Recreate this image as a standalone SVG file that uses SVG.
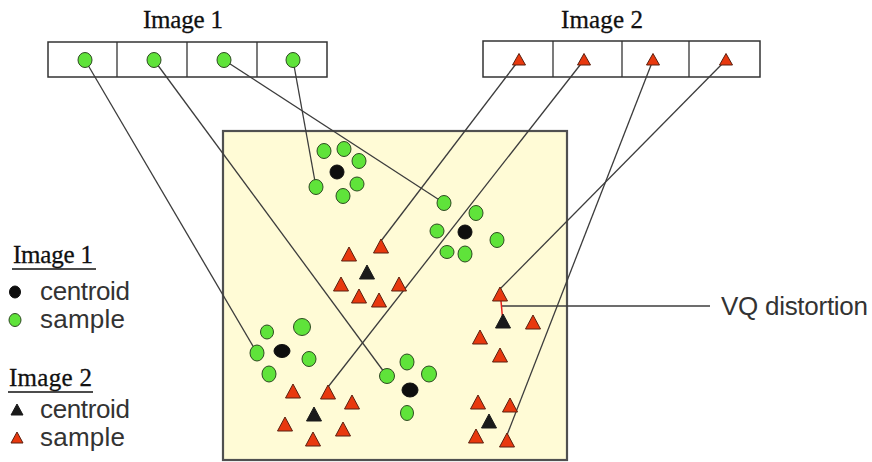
<svg xmlns="http://www.w3.org/2000/svg" width="872" height="462" viewBox="0 0 872 462">
  <style>
    .box { fill: #ffffff; stroke: #333333; stroke-width: 1.5; }
    .div { stroke: #333333; stroke-width: 1.3; }
    .field { fill: #fffbd6; stroke: #505050; stroke-width: 2.2; }
    .link { stroke: #3c3c3c; stroke-width: 1.3; fill: none; }
    .green { fill: #5fe33a; stroke: #2e4a22; stroke-width: 1; }
    .black { fill: #0e0e0e; stroke: #0e0e0e; stroke-width: 1; }
    .red { fill: #e8380e; stroke: #5a2010; stroke-width: 1; }
    .dark { fill: #1a1a1a; stroke: #1a1a1a; stroke-width: 1; }
    .serif { font-family: "Liberation Serif", "Times New Roman", serif; font-size: 25px; fill: #111111; stroke: #111111; stroke-width: 0.3; }
    .sans { font-family: "Liberation Sans", Arial, sans-serif; font-size: 26px; fill: #333333; }
  </style>
  <defs>
    <path id="tri" d="M0,-8 L7.5,6 L-7.5,6 Z"/>
    <path id="triS" d="M0,-6.5 L6.5,5 L-6.5,5 Z"/>
  </defs>

  <rect width="872" height="462" fill="#ffffff"/>

  <!-- codebook strips -->
  <g id="image1-strip">
    <text class="serif" x="183" y="28" text-anchor="middle" textLength="80">Image 1</text>
    <rect class="box" x="48" y="42" width="279" height="35"/>
    <line class="div" x1="117" y1="42" x2="117" y2="77"/>
    <line class="div" x1="187" y1="42" x2="187" y2="77"/>
    <line class="div" x1="257" y1="42" x2="257" y2="77"/>
  </g>
  <g id="image2-strip">
    <text class="serif" x="602" y="28" text-anchor="middle" textLength="82">Image 2</text>
    <rect class="box" x="483" y="41" width="277" height="36"/>
    <line class="div" x1="553" y1="41" x2="553" y2="77"/>
    <line class="div" x1="622" y1="41" x2="622" y2="77"/>
    <line class="div" x1="689" y1="41" x2="689" y2="77"/>
  </g>

  <!-- feature space -->
  <g id="feature-space">
    <rect class="field" x="223" y="131" width="344" height="329"/>
  </g>

  <!-- connectors -->
  <g id="connectors">
    <line class="link" x1="85" y1="60" x2="257" y2="353"/>
    <line class="link" x1="154" y1="60" x2="387" y2="376"/>
    <line class="link" x1="224" y1="60" x2="444" y2="203"/>
    <line class="link" x1="293" y1="60" x2="316" y2="187"/>
    <line class="link" x1="519" y1="60" x2="381" y2="241"/>
    <line class="link" x1="584" y1="60" x2="328" y2="387"/>
    <line class="link" x1="653" y1="60" x2="507" y2="435"/>
    <line class="link" x1="726" y1="60" x2="500" y2="289"/>
    <line id="vq-leader" class="link" x1="502" y1="306" x2="710" y2="306"/>
    <line id="vq-distance" x1="501" y1="301" x2="503" y2="323" stroke="#e8201a" stroke-width="1.5"/>
  </g>

  <!-- codewords in the strips -->
  <g id="cw1-1"><ellipse class="green" cx="85" cy="60" rx="7" ry="7.5"/></g>
  <g id="cw1-2"><ellipse class="green" cx="154" cy="60" rx="7" ry="7.5"/></g>
  <g id="cw1-3"><ellipse class="green" cx="224" cy="60" rx="7" ry="7.5"/></g>
  <g id="cw1-4"><ellipse class="green" cx="293" cy="60" rx="7" ry="7.5"/></g>
  <g id="cw2-1"><use href="#triS" class="red" x="519" y="60"/></g>
  <g id="cw2-2"><use href="#triS" class="red" x="584" y="60"/></g>
  <g id="cw2-3"><use href="#triS" class="red" x="653" y="60"/></g>
  <g id="cw2-4"><use href="#triS" class="red" x="726" y="60"/></g>

  <!-- image 1 cluster (top) -->
  <g id="cluster-a">
    <ellipse class="green" cx="324" cy="151" rx="7" ry="7.5"/>
    <ellipse class="green" cx="344" cy="149" rx="7" ry="7.5"/>
    <ellipse class="green" cx="359" cy="161" rx="7" ry="7.5"/>
    <ellipse class="green" cx="357" cy="184" rx="7" ry="7"/>
    <ellipse class="green" cx="316" cy="187" rx="7" ry="7.5"/>
    <ellipse class="green" cx="343" cy="196" rx="7" ry="7.5"/>
    <ellipse class="black" cx="337" cy="172" rx="7" ry="7"/>
  </g>
  <!-- image 1 cluster (right) -->
  <g id="cluster-b">
    <ellipse class="green" cx="444" cy="203" rx="7" ry="7.5"/>
    <ellipse class="green" cx="476" cy="213" rx="7" ry="7.5"/>
    <ellipse class="green" cx="437" cy="231" rx="7" ry="7"/>
    <ellipse class="green" cx="497" cy="240" rx="7" ry="7.5"/>
    <ellipse class="green" cx="447" cy="252" rx="7" ry="6.5"/>
    <ellipse class="green" cx="465" cy="254" rx="7" ry="8"/>
    <ellipse class="black" cx="465" cy="232" rx="7" ry="7"/>
  </g>
  <!-- image 1 cluster (left) -->
  <g id="cluster-c">
    <ellipse class="green" cx="267" cy="332" rx="6.5" ry="7"/>
    <ellipse class="green" cx="302" cy="327" rx="8.5" ry="8.5"/>
    <ellipse class="green" cx="257" cy="353" rx="7" ry="8"/>
    <ellipse class="green" cx="309" cy="359" rx="7" ry="7.5"/>
    <ellipse class="green" cx="269" cy="374" rx="7" ry="8"/>
    <ellipse class="black" cx="282" cy="351" rx="8" ry="6.5"/>
  </g>
  <!-- image 1 cluster (bottom) -->
  <g id="cluster-d">
    <ellipse class="green" cx="387" cy="376" rx="7.5" ry="7.5"/>
    <ellipse class="green" cx="407" cy="362" rx="7" ry="8"/>
    <ellipse class="green" cx="429" cy="374" rx="7.5" ry="8"/>
    <ellipse class="green" cx="407" cy="413" rx="6.5" ry="7.5"/>
    <ellipse class="black" cx="410" cy="390" rx="8" ry="7"/>
  </g>

  <!-- image 2 cluster (middle) -->
  <g id="cluster-e">
    <use href="#tri" class="red" x="349" y="255"/>
    <use href="#tri" class="red" x="381" y="247"/>
    <use href="#tri" class="red" x="341" y="285"/>
    <use href="#tri" class="red" x="359" y="297"/>
    <use href="#tri" class="red" x="379" y="301"/>
    <use href="#tri" class="red" x="399" y="285"/>
    <use href="#tri" class="dark" x="367" y="273"/>
  </g>
  <!-- image 2 cluster (bottom left) -->
  <g id="cluster-f">
    <use href="#tri" class="red" x="293" y="392"/>
    <use href="#tri" class="red" x="328" y="393"/>
    <use href="#tri" class="red" x="352" y="403"/>
    <use href="#tri" class="red" x="285" y="425"/>
    <use href="#tri" class="red" x="343" y="430"/>
    <use href="#tri" class="red" x="313" y="440"/>
    <use href="#tri" class="dark" x="314" y="415"/>
  </g>
  <!-- image 2 cluster (right) -->
  <g id="cluster-g">
    <use href="#tri" class="red" x="500" y="295"/>
    <use href="#tri" class="red" x="533" y="323"/>
    <use href="#tri" class="red" x="480" y="338"/>
    <use href="#tri" class="red" x="500" y="356"/>
    <use href="#tri" class="dark" x="503" y="322"/>
  </g>
  <!-- image 2 cluster (bottom right) -->
  <g id="cluster-h">
    <use href="#tri" class="red" x="478" y="403"/>
    <use href="#tri" class="red" x="510" y="406"/>
    <use href="#tri" class="red" x="476" y="437"/>
    <use href="#tri" class="red" x="507" y="441"/>
    <use href="#tri" class="dark" x="489" y="422"/>
  </g>

  <g id="vq-label">
    <text class="sans" x="721" y="315" textLength="147">VQ distortion</text>
  </g>

  <!-- legend -->
  <g id="legend-image1">
    <text class="serif" x="13" y="263" textLength="80">Image 1</text>
    <line x1="12" y1="269" x2="96" y2="269" stroke="#111111" stroke-width="1.3"/>
    <ellipse class="black" cx="15" cy="292" rx="5.5" ry="6"/>
    <text class="sans" x="40" y="300" textLength="90">centroid</text>
    <ellipse class="green" cx="15" cy="320" rx="6" ry="6.5"/>
    <text class="sans" x="40" y="328" textLength="85">sample</text>
  </g>
  <g id="legend-image2">
    <text class="serif" x="9" y="386" textLength="83">Image 2</text>
    <line x1="8" y1="392" x2="93" y2="392" stroke="#111111" stroke-width="1.3"/>
    <path class="dark" d="M17,404 L23,415 L11,415 Z"/>
    <text class="sans" x="40" y="418" textLength="90">centroid</text>
    <path class="red" d="M17,432 L23,443 L11,443 Z"/>
    <text class="sans" x="40" y="446" textLength="85">sample</text>
  </g>
</svg>
